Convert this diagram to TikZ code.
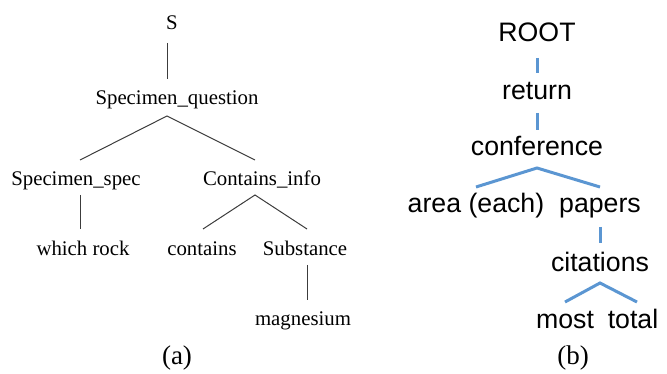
\documentclass[tikz,border=0pt]{standalone}
\usepackage{fontspec}
\setmainfont{Liberation Serif}
\newfontfamily\arialfont{Liberation Sans}
\usetikzlibrary{calc}
\definecolor{treeblue}{RGB}{91,150,210}
\definecolor{treegray}{RGB}{60,60,60}
\begin{document}
\begin{tikzpicture}[x=1pt,y=-1pt,
  ltxt/.style={anchor=base,inner sep=0pt,font=\fontsize{20.8}{24}\selectfont},
  rtxt/.style={anchor=base,inner sep=0pt,font=\arialfont\fontsize{26.7}{30}\selectfont},
  captxt/.style={anchor=base,inner sep=0pt,font=\fontsize{27}{30}\selectfont},
  lline/.style={draw=treegray,line width=1pt},
  rline/.style={draw=treeblue,line width=3pt}]
\useasboundingbox (0,0) rectangle (667,374);
% left tree
\node[ltxt] (S) at (172,30) {S};
\node[ltxt] (SQ) at (177,105) {Specimen\_question};
\node[ltxt] (SS) at (76,186) {Specimen\_spec};
\node[ltxt] (CI) at (262,186) {Contains\_info};
\node[ltxt] (WR) at (83,256) {which rock};
\node[ltxt] (CO) at (202,256) {contains};
\node[ltxt] (SU) at (305,256) {Substance};
\node[ltxt] (MA) at (303,325) {magnesium};
\node[captxt] (CA) at (177,364) {(a)};
\draw[lline] ($(S.base)+(-5,13)$) -- ($(SQ.base)+(-10,-26)$);
\draw[lline] ($(SS.base)+(4,-26)$) -- ($(SQ.base)+(-10,11)$) -- ($(CI.base)+(-7,-26)$);
\draw[lline] ($(SS.base)+(4,9)$) -- ($(WR.base)+(-3,-27)$);
\draw[lline] ($(CO.base)+(1,-27)$) -- ($(CI.base)+(-7,9)$) -- ($(SU.base)+(2,-27)$);
\draw[lline] ($(SU.base)+(2,9)$) -- ($(MA.base)+(4,-25)$);
% right tree
\node[rtxt] (RO) at (537,42) {ROOT};
\node[rtxt] (RE) at (537,100) {return};
\node[rtxt] (CF) at (537,156) {conference};
\node[rtxt] (AR) at (476,213) {area (each)};
\node[rtxt] (PA) at (600,213) {papers};
\node[rtxt] (CT) at (600,272) {citations};
\node[rtxt] (MO) at (565,328) {most};
\node[rtxt] (TO) at (633,328) {total};
\node[captxt] (CB) at (573,364) {(b)};
\draw[rline] ($(RO.base)+(0,16)$) -- ($(RE.base)+(0,-27)$);
\draw[rline] ($(RE.base)+(0,13)$) -- ($(CF.base)+(0,-26)$);
\draw[rline] ($(AR.base)+(0,-26)$) -- ($(CF.base)+(0,12)$) -- ($(PA.base)+(0,-26)$);
\draw[rline] ($(PA.base)+(0,14)$) -- ($(CT.base)+(0,-29)$);
\draw[rline] ($(MO.base)+(0,-26)$) -- ($(CT.base)+(0,11)$) -- ($(TO.base)+(4,-26)$);
\end{tikzpicture}
\end{document}
